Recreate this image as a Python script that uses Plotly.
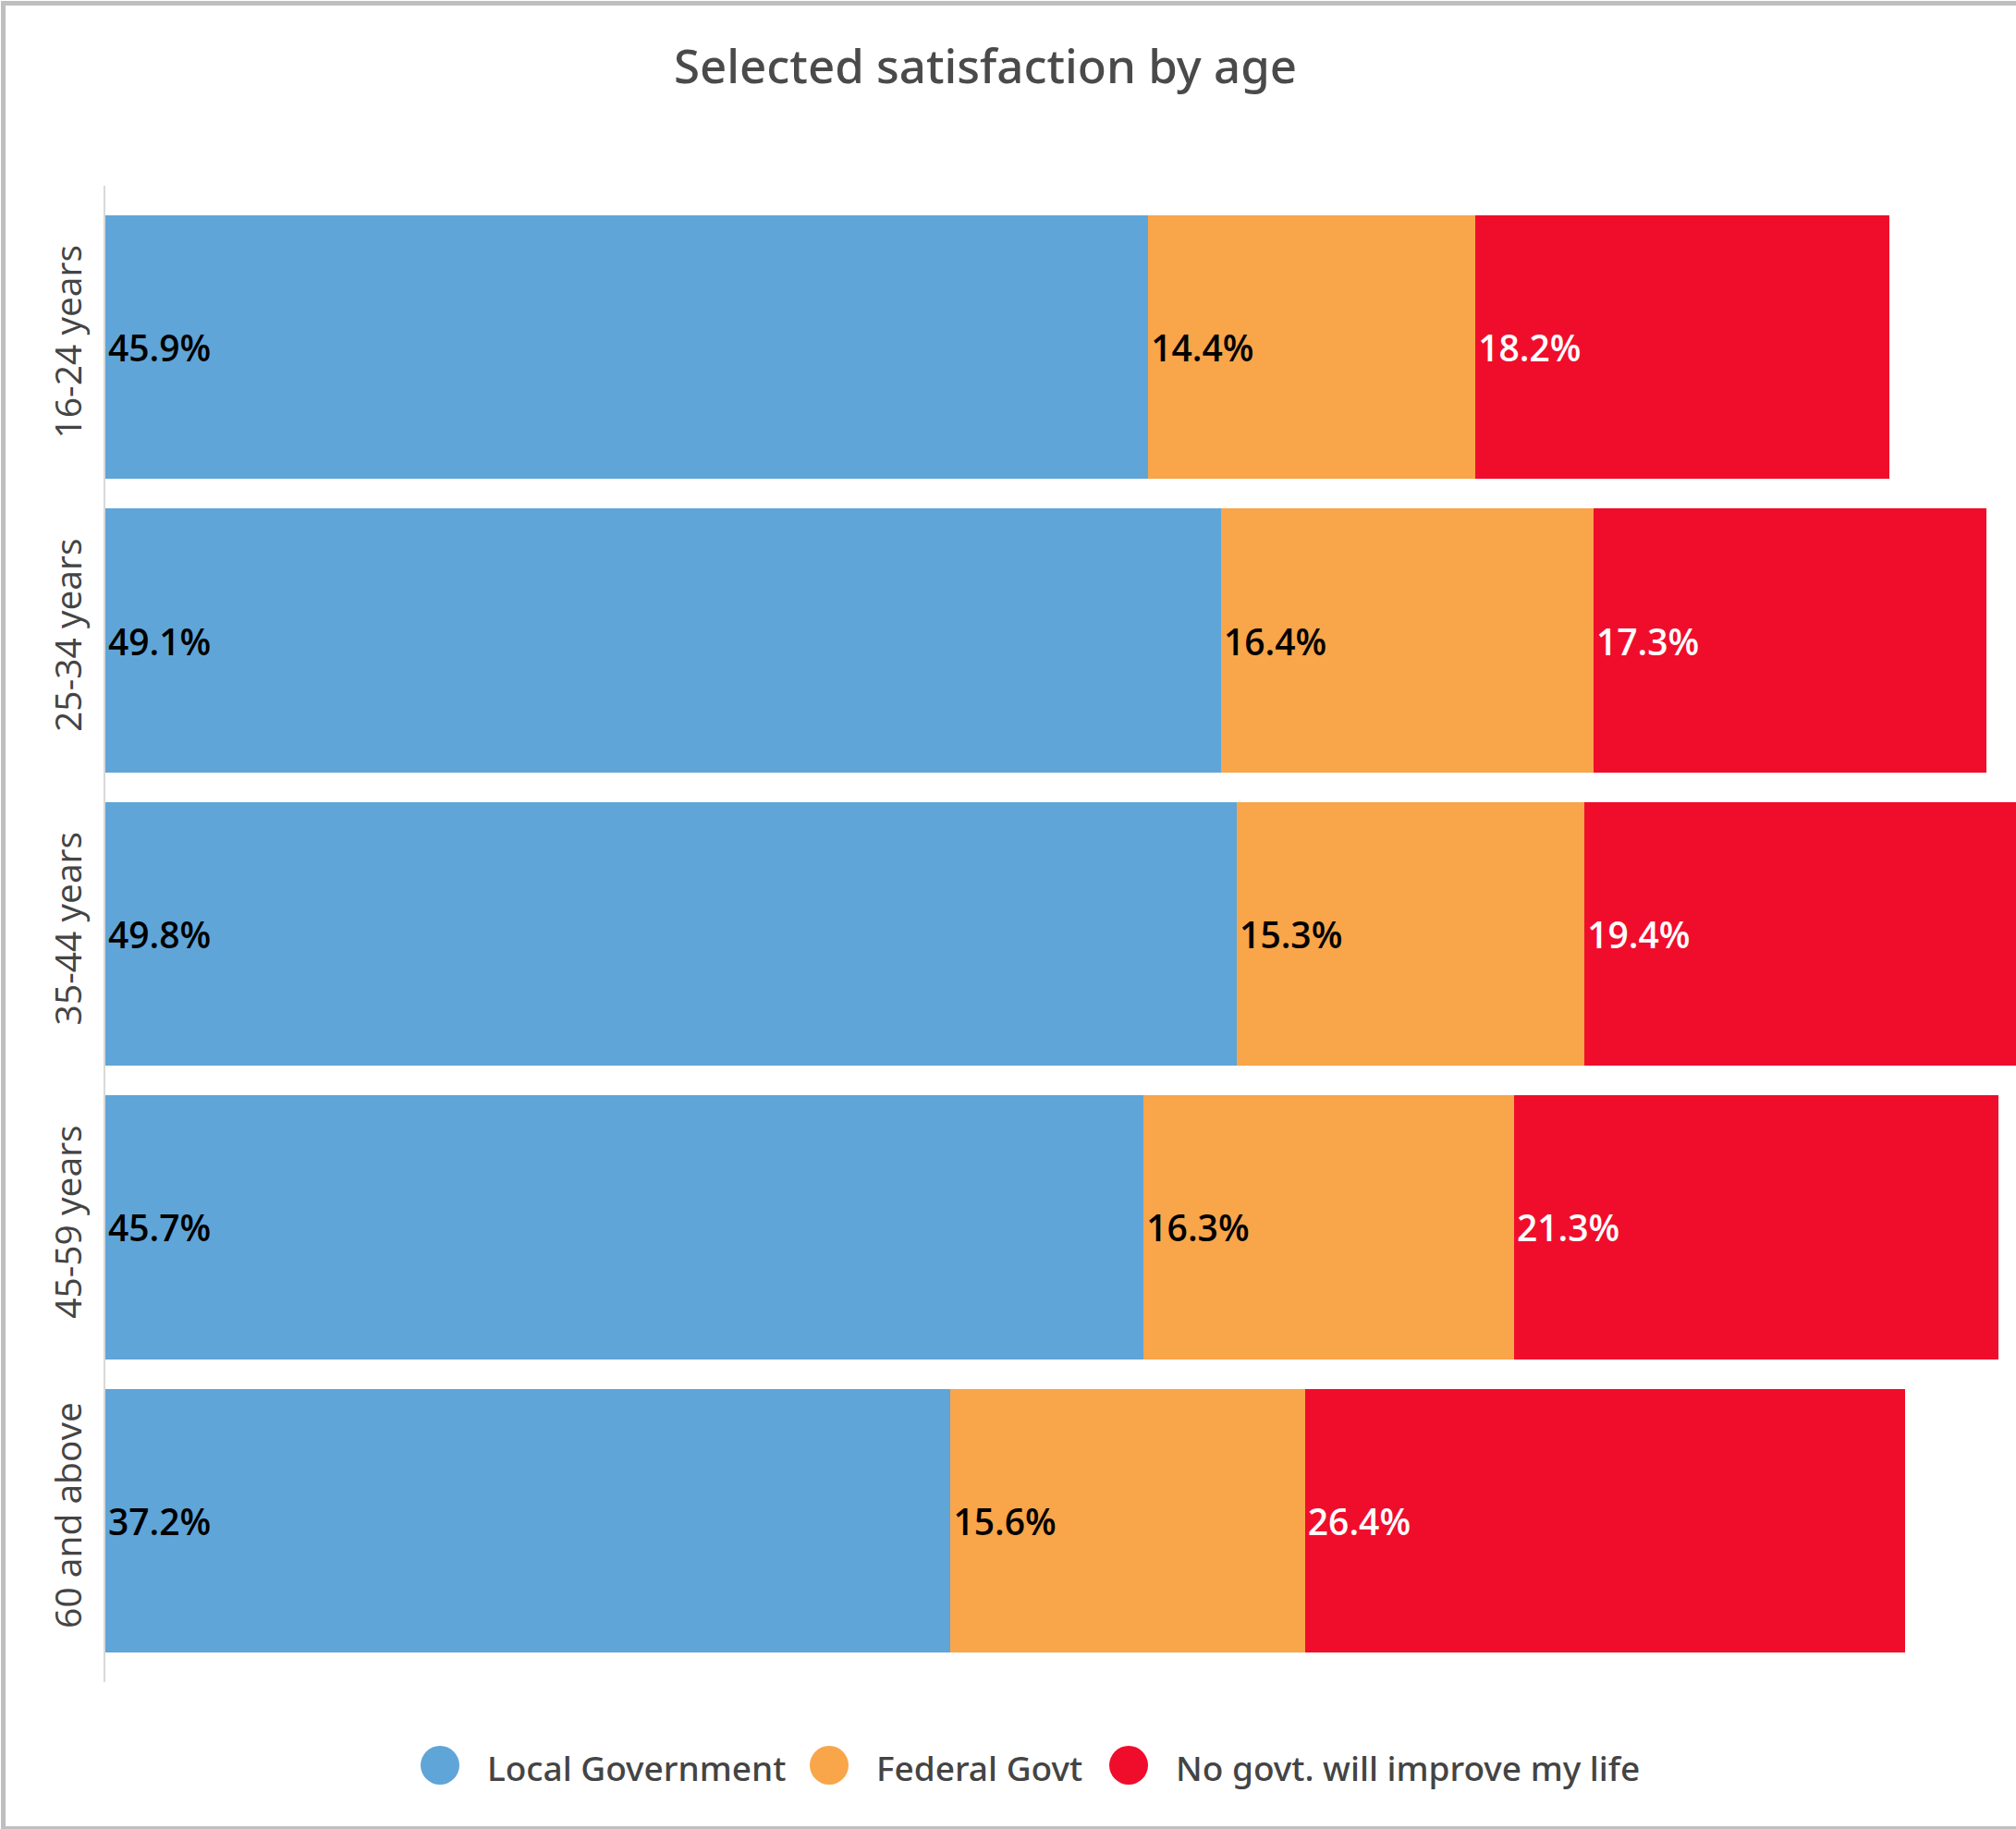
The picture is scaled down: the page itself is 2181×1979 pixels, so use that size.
import plotly.graph_objects as go

categories = ["16-24 years", "25-34 years", "35-44 years", "45-59 years", "60 and above"]
series_names = ["Local Government", "Federal Govt", "No govt. will improve my life"]
local_gov = [45.9, 49.1, 49.8, 45.7, 37.2]
federal_govt = [14.4, 16.4, 15.3, 16.3, 15.6]
no_govt = [18.2, 17.3, 19.4, 21.3, 26.4]
series_values = [local_gov, federal_govt, no_govt]
colors = ["#60A5D8", "#F9A54A", "#F00D2B"]
label_colors = ["#000000", "#000000", "#FFFFFF"]

W, H = 2181, 1979
ML, MR, MT, MB = 114, 0, 201, 159
PW, PH = W - ML - MR, H - MT - MB
PX_PER_UNIT = 24.58


def px(x):
    return (x - ML) / PW


def py(y):
    return (H - MB - y) / PH


fig = go.Figure()
for name, vals, col, lc in zip(series_names, series_values, colors, label_colors):
    fig.add_trace(go.Bar(
        y=categories, x=vals, name=name, orientation="h",
        marker=dict(color=col, line=dict(width=0)),
        texttemplate="%{x:.1f}%", textposition="inside",
        insidetextanchor="start", textangle=0, constraintext="none",
        textfont=dict(family="Open Sans", size=39, color=lc, weight=600),
        showlegend=False, hoverinfo="skip",
    ))

shapes = [
    dict(type="rect", xref="paper", yref="paper",
         x0=px(3.5), x1=px(W + 20), y0=py(3.5), y1=py(1978.5),
         line=dict(color="#bfbfbf", width=5), fillcolor="rgba(0,0,0,0)", layer="below"),
]
annotations = []
legend_circles = [476, 897, 1221]
legend_text_x = [525, 946, 1270]
legend_y = 1910
r = 21
for cx, tx, name, col in zip(legend_circles, legend_text_x, series_names, colors):
    shapes.append(dict(type="circle", xref="paper", yref="paper",
                       x0=px(cx - r), x1=px(cx + r), y0=py(legend_y - r), y1=py(legend_y + r),
                       fillcolor=col, line=dict(width=0)))
    annotations.append(dict(xref="paper", yref="paper", x=px(tx), y=py(legend_y + 2),
                            xanchor="left", yanchor="middle", text=name, showarrow=False,
                            font=dict(family="Noto Sans", size=37, color="#444444", weight=500)))

fig.update_layout(
    width=W, height=H,
    margin=dict(l=ML, r=MR, t=MT, b=MB),
    barmode="stack", bargap=0.1,
    paper_bgcolor="white", plot_bgcolor="white",
    title=dict(text="Selected satisfaction by age", x=1066 / W, xanchor="center",
               y=1 - 72 / H, yanchor="middle",
               font=dict(family="Noto Sans", size=51, color="#4a4a4a", weight=500)),
    xaxis=dict(range=[0, PW / PX_PER_UNIT], visible=False, showgrid=False, zeroline=False),
    yaxis=dict(range=[4.55, -0.55], type="category", categoryorder="array",
               categoryarray=categories, showgrid=False, zeroline=False,
               showline=True, linecolor="#d9d9d9", linewidth=2,
               ticks="", tickangle=-90, ticklabelstandoff=8,
               tickfont=dict(family="Open Sans", size=39, color="#444444")),
    shapes=shapes, annotations=annotations,
    showlegend=False,
)

fig.write_html("out.html", config={"displayModeBar": False},
               post_script="document.body.style.margin='0';")
